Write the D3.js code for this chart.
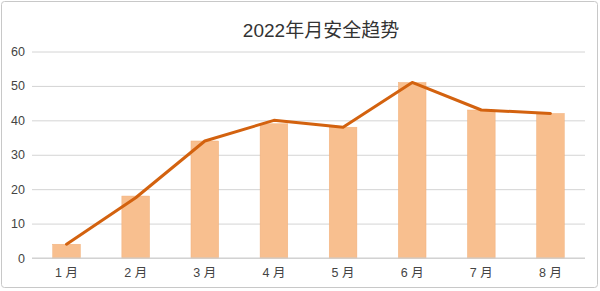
<!DOCTYPE html>
<html>
<head>
<meta charset="utf-8">
<script src="https://cdn.jsdelivr.net/npm/d3@7"></script>
<style>
  body { margin: 0; background: #fff; }
  text { font-family: "Helvetica Neue", "Liberation Sans", "Noto Sans CJK SC", sans-serif; }
</style>
</head>
<body>
<svg id="chart"></svg>
<script>
// chart data
var months = ["1 月", "2 月", "3 月", "4 月", "5 月", "6 月", "7 月", "8 月"];
var barValues = [4, 18, 34, 39, 38, 51, 43, 42];
var lineValues = [4, 17.5, 34, 40, 38, 51, 43, 42];
var yTicks = [0, 10, 20, 30, 40, 50, 60];
var title = "2022年月安全趋势";

var width = 600, height = 291;
var margin = {top: 51.5, right: 15, bottom: 33, left: 32};

var svg = d3.select("#chart").attr("width", width).attr("height", height);

// outer frame
svg.append("rect")
	.attr("x", 1.5).attr("y", 1.5)
	.attr("width", width - 4).attr("height", height - 5)
	.attr("rx", 3)
	.style("fill", "#fff")
	.style("stroke", "#c8c8c8");

var x = d3.scaleBand()
	.domain(months)
	.range([margin.left, width - margin.right])
	.paddingInner(0.6)
	.paddingOuter(0.3);

var y = d3.scaleLinear()
	.domain([0, 60])
	.range([height - margin.bottom, margin.top]);

// gridlines
var yAxis = d3.axisLeft(y).tickValues(yTicks).tickSize(-(width - margin.right - margin.left)).tickPadding(7);
var gy = svg.append("g")
	.attr("transform", "translate(" + margin.left + ",0)")
	.call(yAxis);
gy.select(".domain").remove();
gy.selectAll(".tick line").style("stroke", "#d4d4d4").style("stroke-width", 1);
gy.selectAll(".tick text").style("fill", "#444").style("font-size", "12.5px");

// bars
svg.selectAll(".bar").data(barValues)
	.enter().append("rect")
	.attr("class", "bar")
	.attr("x", function(d, i) { return x(months[i]); })
	.attr("y", function(d) { return y(d); })
	.attr("width", x.bandwidth())
	.attr("height", function(d) { return y(0) - y(d); })
	.style("fill", "#f8bf8f")
	.style("stroke", "#f2b07a")
	.style("stroke-width", 0.5);

// redraw baseline above bars
svg.append("line")
	.attr("x1", margin.left).attr("x2", width - margin.right)
	.attr("y1", y(0)).attr("y2", y(0))
	.style("stroke", "#cfcfcf");

// line
var line = d3.line()
	.x(function(d, i) { return x(months[i]) + x.bandwidth() / 2; })
	.y(function(d) { return y(d); });

svg.append("path")
	.datum(lineValues)
	.attr("d", line)
	.style("fill", "none")
	.style("stroke", "#d3620f")
	.style("stroke-width", 3)
	.style("stroke-linejoin", "round")
	.style("stroke-linecap", "round");

// x labels
var xAxis = d3.axisBottom(x).tickSize(0).tickPadding(10);
var gx = svg.append("g")
	.attr("transform", "translate(0," + y(0) + ")")
	.call(xAxis);
gx.select(".domain").remove();
gx.selectAll(".tick text").style("fill", "#444").style("font-size", "12.5px");

// title
svg.append("text")
	.attr("x", 321).attr("y", 37)
	.attr("text-anchor", "middle")
	.style("font-size", "19px")
	.style("fill", "#333")
	.text(title);
</script>
</body>
</html>
